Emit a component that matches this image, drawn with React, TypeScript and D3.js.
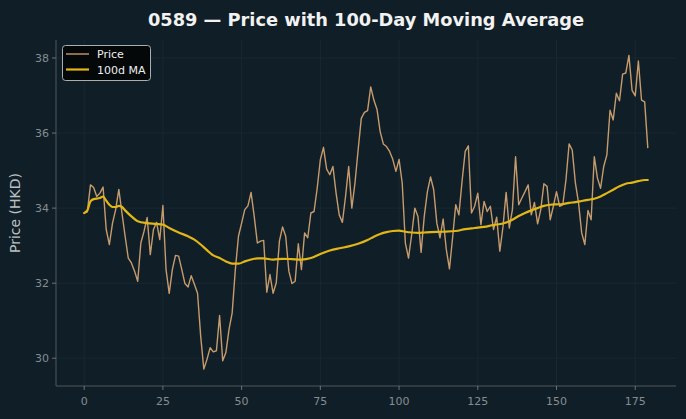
import React from 'react';
import * as d3 from 'd3';

// daily close, day 0..179
const prices = [
  33.87, 33.9, 34.62, 34.55, 34.31, 34.4, 34.56, 33.43, 33.03, 33.6,
  33.96, 34.5, 33.87, 33.25, 32.67, 32.54, 32.32, 32.05, 33.07, 33.38,
  33.75, 32.76, 33.43, 33.62, 33.16, 34.07, 32.36, 31.73, 32.36, 32.74,
  32.72, 32.36, 31.99, 31.9, 32.2, 31.97, 31.73, 30.59, 29.71, 29.97,
  30.28, 30.17, 30.2, 31.14, 29.93, 30.15, 30.77, 31.21, 32.36, 33.25,
  33.6, 33.96, 34.06, 34.42, 33.78, 33.07, 33.12, 33.14, 31.76, 32.23,
  31.73, 32.01, 33.12, 33.5, 33.25, 32.32, 31.99, 32.05, 33.05, 32.36,
  33.34, 33.21, 33.87, 33.91, 34.53, 35.29, 35.62, 35.04, 34.89, 35.11,
  34.4, 33.82, 33.62, 34.31, 35.11, 34.0, 34.67, 35.55, 36.39, 36.55,
  36.6, 37.23, 36.88, 36.63, 36.04, 35.71, 35.64, 35.51, 35.3, 34.98,
  35.3, 34.67, 33.07, 32.67, 33.29, 34.0, 33.78, 32.82, 33.78, 34.44,
  34.83, 34.49, 33.6, 33.21, 33.71, 32.9, 32.38, 33.21, 34.09, 33.82,
  34.71, 35.51, 35.66, 33.87, 34.05, 34.4, 33.56, 34.18, 33.91, 34.05,
  33.43, 33.76, 32.85, 33.5, 34.42, 33.47, 33.96, 35.37, 34.09, 34.27,
  34.44, 34.62, 33.82, 34.15, 33.58, 33.96, 34.65, 34.58, 33.69, 34.05,
  34.44, 34.05, 34.09, 34.75, 35.71, 35.55, 34.67, 34.14, 33.34, 33.03,
  33.94, 33.69, 35.37, 34.8, 34.53, 35.11, 35.42, 36.61, 36.35, 37.06,
  36.86, 37.57, 37.6, 38.07, 37.14, 36.99, 37.92, 36.88, 36.83, 35.6,
];

// 100-day moving average, sampled days
const maDays = [
  0, 1, 2, 3, 5, 6, 7, 8, 9, 10, 11, 12, 13, 15, 17, 20, 23, 25, 27, 30,
  33, 35, 37, 39, 41, 43, 45, 47, 49, 51, 53, 55, 57, 60, 63, 66, 69, 72,
  75, 78, 81, 84, 87, 90, 92, 94, 96, 98, 100, 102, 104, 106, 108, 110,
  114, 118, 121, 124, 127, 130, 133, 136, 138, 140, 142, 144, 146, 148,
  150, 152, 154, 156, 158, 160, 162, 164, 166, 168, 170, 172, 174, 176,
  178, 179,
];
const maValues = [
  33.87, 33.94, 34.18, 34.24, 34.27, 34.31, 34.2, 34.09, 34.03, 34.03,
  34.06, 34.03, 33.94, 33.78, 33.65, 33.6, 33.58, 33.56, 33.47, 33.35,
  33.25, 33.16, 33.03, 32.88, 32.74, 32.67, 32.58, 32.52, 32.52, 32.58,
  32.63, 32.66, 32.66, 32.63, 32.65, 32.64, 32.63, 32.67, 32.78, 32.87,
  32.93, 32.98, 33.05, 33.15, 33.24, 33.31, 33.36, 33.39, 33.4, 33.37,
  33.35, 33.34, 33.35, 33.36, 33.37, 33.39, 33.44, 33.47, 33.5, 33.55,
  33.59, 33.69, 33.79, 33.87, 33.94, 34.0, 34.06, 34.09, 34.1, 34.11,
  34.14, 34.16, 34.19, 34.22, 34.25, 34.31, 34.4, 34.49, 34.58, 34.65,
  34.68, 34.72, 34.75, 34.75,
];

const xTicks = [0, 25, 50, 75, 100, 125, 150, 175];
const yTicks = [30, 32, 34, 36, 38];

const W = 686;
const H = 419;
const margin = { left: 56, right: 10, top: 40, bottom: 33 };
const font = '"DejaVu Sans", sans-serif';

const App: React.FC = () => {
  const x = d3.scaleLinear().domain([-8.95, 187.95]).range([margin.left, W - margin.right]);
  const y = d3.scaleLinear().domain([29.26, 38.48]).range([H - margin.bottom, margin.top]);

  const priceLine = d3.line<number>()
    .x((_, i) => x(i))
    .y((d) => y(d));

  const maLine = d3.line<number>()
    .x((_, i) => x(maDays[i]))
    .y((d) => y(d))
    .curve(d3.curveMonotoneX);

  const x0 = margin.left;
  const x1 = W - margin.right;
  const y0 = H - margin.bottom;
  const y1 = margin.top;

  return (
    <svg width={W} height={H} style={{ position: 'fixed', left: 0, top: 0, display: 'block' }} fontFamily={font}>
      <rect width={W} height={H} fill="#101f27" />

      {/* grid */}
      {xTicks.map((t) => (
        <line key={'gx' + t} x1={x(t)} x2={x(t)} y1={y1} y2={y0} stroke="#1b2a32" strokeWidth={0.8} />
      ))}
      {yTicks.map((t) => (
        <line key={'gy' + t} x1={x0} x2={x1} y1={y(t)} y2={y(t)} stroke="#1b2a32" strokeWidth={0.8} />
      ))}

      <path d={priceLine(prices) || ''} fill="none" stroke="#c69b6d" strokeWidth={1.4} strokeLinejoin="round" />
      <path d={maLine(maValues) || ''} fill="none" stroke="#e2b616" strokeWidth={2.2} strokeLinecap="round" />

      {/* axes */}
      <line x1={x0} x2={x0} y1={y1} y2={y0} stroke="#4f575c" strokeWidth={1} />
      <line x1={x0} x2={x1} y1={y0} y2={y0} stroke="#4f575c" strokeWidth={1} />
      {xTicks.map((t) => (
        <g key={'tx' + t}>
          <line x1={x(t)} x2={x(t)} y1={y0} y2={y0 + 4} stroke="#6a7176" />
          <text x={x(t)} y={y0 + 19} textAnchor="middle" fontSize={11} fill="#868d92">{t}</text>
        </g>
      ))}
      {yTicks.map((t) => (
        <g key={'ty' + t}>
          <line x1={x0 - 4} x2={x0} y1={y(t)} y2={y(t)} stroke="#6a7176" />
          <text x={x0 - 7} y={y(t) + 4} textAnchor="end" fontSize={11} fill="#868d92">{t}</text>
        </g>
      ))}

      <text x={(x0 + x1) / 2} y={26} textAnchor="middle" fontSize={17.8} fontWeight="bold" fill="#f2f2f2">
        0589 — Price with 100-Day Moving Average
      </text>
      <text transform={`translate(20,${(y0 + y1) / 2}) rotate(-90)`} textAnchor="middle" fontSize={14} fill="#bcc0c3">
        Price (HKD)
      </text>

      {/* legend */}
      <g>
        <rect x={62.5} y={45.5} width={88} height={35} rx={3} fill="#050809" stroke="#a9aeb1" strokeWidth={1} />
        <line x1={66} x2={89} y1={54} y2={54} stroke="#c69b6d" strokeWidth={1.4} />
        <line x1={66} x2={89} y1={69.5} y2={69.5} stroke="#e2b616" strokeWidth={2.2} />
        <text x={97} y={58} fontSize={11} fill="#eeeeee">Price</text>
        <text x={97} y={73.5} fontSize={11} fill="#eeeeee">100d MA</text>
      </g>
    </svg>
  );
};

export default App;
